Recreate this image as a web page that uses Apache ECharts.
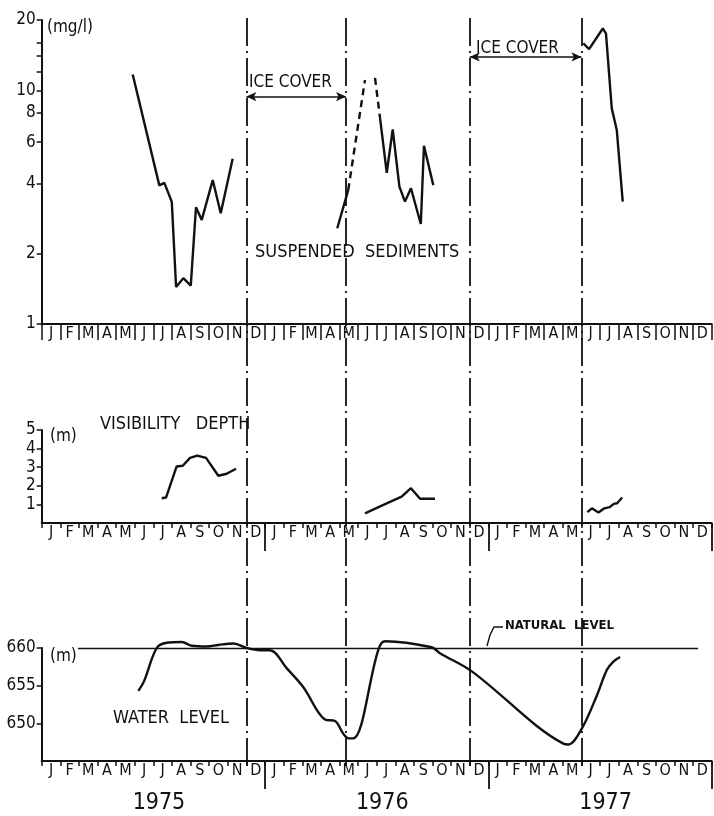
<!DOCTYPE html>
<html>
<head>
<meta charset="utf-8">
<script src="https://cdn.jsdelivr.net/npm/echarts@6/dist/echarts.min.js"></script>
<style>
html, body { margin: 0; padding: 0; background: #fff; }
#chart { width: 714px; height: 816px; }
</style>
</head>
<body>
<div id="chart"></div>
<script>
// x = month index, 0 = 1 Jan 1975, 36 = end of Dec 1977
const monthLetters = ['J', 'F', 'M', 'A', 'M', 'J', 'J', 'A', 'S', 'O', 'N', 'D'];
const years = ['1975', '1976', '1977'];
const yearCenters = [6.3, 18.3, 30.3];
const iceLines = [11, 16.35, 23, 29];
const iceCover = [[11, 16.35, 9.4], [23, 29, 13.9]]; // from, to, height (mg/l)

// suspended sediments (mg/l)
const sed1975 = [[4.89, 11.7], [6.32, 3.92], [6.59, 4.02], [6.99, 3.33], [7.22, 1.44], [7.61, 1.57],
  [8.01, 1.46], [8.29, 3.16], [8.60, 2.79], [9.19, 4.13], [9.62, 2.98], [10.26, 5.1]];
const sed1976a = [[15.88, 2.57], [16.47, 3.74]];
const sed1976up = [[16.47, 3.74], [17.37, 11.07]];
const sed1976down = [[17.91, 11.3], [18.18, 7.6]];
const sed1976b = [[18.18, 7.6], [18.54, 4.44], [18.86, 6.81], [19.22, 3.87], [19.52, 3.34], [19.84, 3.81],
  [20.37, 2.68], [20.54, 5.79], [21.04, 3.93]];
const sed1977 = [[29.10, 15.9], [29.41, 15.0], [30.15, 18.4], [30.32, 17.5], [30.63, 8.37], [30.90, 6.76], [31.22, 3.34]];
const sedTicks = [1, 2, 4, 6, 8, 10, 12, 14, 16, 20];
const sedLabels = [1, 2, 4, 6, 8, 10, 20];

// visibility depth (m)
const vis1975 = [[6.45, 1.33], [6.68, 1.37], [7.25, 3.04], [7.58, 3.08], [7.97, 3.5], [8.36, 3.62],
  [8.83, 3.5], [9.49, 2.54], [9.94, 2.65], [10.44, 2.92]];
const vis1976 = [[17.37, 0.52], [18.36, 0.97], [19.34, 1.42], [19.84, 1.87], [20.33, 1.30], [21.13, 1.30]];
const vis1977 = [[29.32, 0.58], [29.56, 0.79], [29.92, 0.56], [30.23, 0.79], [30.52, 0.85], [30.74, 1.03],
  [30.92, 1.06], [31.19, 1.37]];
const visLabels = [1, 2, 3, 4, 5];

// water level (m)
const waterLevel = [[5.19, 654.3], [5.50, 655.6], [6.18, 660.0], [6.72, 660.7], [7.52, 660.8], [8.06, 660.3],
  [8.87, 660.2], [9.49, 660.4], [10.30, 660.6], [11.02, 660.0], [11.73, 659.7], [12.27, 659.7],
  [13.17, 657.3], [14.06, 654.8], [15.22, 650.5], [15.76, 650.3], [16.21, 648.6], [16.48, 648.0],
  [16.74, 648.0], [18.09, 659.8], [18.45, 660.9], [20.96, 660.1], [21.40, 659.3], [23.11, 656.9],
  [28.03, 647.3], [28.30, 647.2], [29.02, 649.3], [29.83, 653.7], [30.37, 657.1], [30.72, 658.2], [31.08, 658.8]];
const waterLabels = [650, 655, 660];
const naturalLevel = [[1.95, 660], [35.27, 660]];

const FONT = "'DejaVu Sans Condensed', 'Liberation Sans Narrow', 'Liberation Sans', sans-serif";
const INK = '#111';

const monthBounds = Array.from({ length: 37 }, (_, i) => i);
const monthMids = Array.from({ length: 36 }, (_, i) => i + 0.5);
const lg = v => Math.log10(v);
const logPts = pts => pts.map(p => [p[0], lg(p[1])]);

function monthAxis(grid, tickLen) {
  return {
    type: 'value', gridIndex: grid, position: 'bottom', min: 0, max: 36,
    axisLine: { show: true, lineStyle: { color: INK, width: 2 } },
    axisTick: { show: true, customValues: monthBounds, length: tickLen, lineStyle: { color: INK, width: 1.5 } },
    axisLabel: {
      customValues: monthMids, formatter: v => monthLetters[Math.floor(v) % 12],
      margin: 2, color: INK, fontSize: 16, fontFamily: FONT
    },
    splitLine: { show: false }
  };
}
function longTickAxis(grid, showYears) {
  return {
    type: 'value', gridIndex: grid, position: 'bottom', min: 0, max: 36,
    axisLine: { show: false },
    axisTick: { show: true, customValues: [12, 24, 36], length: 28, lineStyle: { color: INK, width: 1.8 } },
    axisLabel: showYears ? {
      customValues: yearCenters, formatter: v => years[yearCenters.indexOf(v)],
      margin: 31, color: INK, fontSize: 23, fontFamily: FONT
    } : { show: false },
    splitLine: { show: false }
  };
}
function line(data, x, y, dashed, smooth) {
  return {
    type: 'line', xAxisIndex: x, yAxisIndex: y, data: data, symbol: 'none', smooth: smooth || false,
    clip: false, lineStyle: { color: INK, width: 2.4, type: dashed ? [7, 5] : 'solid' }, silent: true
  };
}

const chart = echarts.init(document.getElementById('chart'), null, { renderer: 'canvas' });

const option = {
  backgroundColor: '#fff',
  animation: false,
  grid: [
    { left: 41.7, right: 2.3, top: 20, bottom: 492 },
    { left: 41.7, right: 2.3, top: 430, bottom: 293 },
    { left: 41.7, right: 2.3, top: 648, bottom: 55 },
    { left: 41.7, right: 2.3, top: 18, bottom: 50 }
  ],
  xAxis: [
    monthAxis(0, 16),
    monthAxis(1, 5),
    longTickAxis(1, false),
    monthAxis(2, 5),
    longTickAxis(2, true),
    { type: 'value', gridIndex: 3, min: 0, max: 36, show: false }
  ],
  yAxis: [
    {
      type: 'value', gridIndex: 0, min: 0, max: lg(20),
      axisLine: { show: true, lineStyle: { color: INK, width: 2 } },
      axisTick: { show: true, customValues: sedTicks.map(lg), length: 5, lineStyle: { color: INK, width: 1.5 } },
      axisLabel: { customValues: sedLabels.map(lg), formatter: v => Math.round(Math.pow(10, v)), margin: 6,
        color: INK, fontSize: 17, fontFamily: FONT },
      splitLine: { show: false }
    },
    {
      type: 'value', gridIndex: 1, min: 0, max: 5,
      axisLine: { show: true, lineStyle: { color: INK, width: 2 } },
      axisTick: { show: true, customValues: visLabels, length: 5, lineStyle: { color: INK, width: 1.5 } },
      axisLabel: { customValues: visLabels, margin: 6, color: INK, fontSize: 17, fontFamily: FONT },
      splitLine: { show: false }
    },
    {
      type: 'value', gridIndex: 2, min: 645, max: 660,
      axisLine: { show: true, lineStyle: { color: INK, width: 2 } },
      axisTick: { show: true, customValues: waterLabels, length: 5, lineStyle: { color: INK, width: 1.5 } },
      axisLabel: { customValues: waterLabels, margin: 6, color: INK, fontSize: 17, fontFamily: FONT },
      splitLine: { show: false }
    },
    { type: 'value', gridIndex: 3, min: 0, max: 1, show: false }
  ],
  series: [
    line(logPts(sed1975), 0, 0),
    line(logPts(sed1976a), 0, 0),
    line(logPts(sed1976up), 0, 0, true),
    line(logPts(sed1976down), 0, 0, true),
    line(logPts(sed1976b), 0, 0),
    Object.assign(line(logPts(sed1977), 0, 0), {
      markLine: {
        silent: true, symbol: ['arrow', 'arrow'], symbolSize: [7, 10],
        label: { show: false },
        lineStyle: { color: INK, width: 1.6, type: 'solid' },
        data: iceCover.map(c => [{ coord: [c[0], lg(c[2])] }, { coord: [c[1], lg(c[2])] }])
      }
    }),
    line(vis1975, 1, 1),
    line(vis1976, 1, 1),
    line(vis1977, 1, 1),
    Object.assign(line(waterLevel, 3, 2, false, 0.35), {
      markLine: {
        silent: true, symbol: 'none', label: { show: false },
        lineStyle: { color: INK, width: 1.3, type: 'solid' },
        data: [[{ coord: naturalLevel[0] }, { coord: naturalLevel[1] }]]
      }
    }),
    {
      type: 'line', xAxisIndex: 5, yAxisIndex: 3, data: [], silent: true,
      markLine: {
        silent: true, symbol: 'none', label: { show: false },
        lineStyle: { color: INK, width: 1.8, type: [28, 5, 2, 5] },
        data: iceLines.map(v => ({ xAxis: v }))
      }
    }
  ],
  graphic: [
    { type: 'text', left: 47, top: 19, style: { text: '(mg/l)', fontSize: 17, fontFamily: FONT, fill: INK } },
    { type: 'text', left: 249, top: 74, style: { text: 'ICE COVER', fontSize: 17, fontFamily: FONT, fill: INK } },
    { type: 'text', left: 476, top: 40, style: { text: 'ICE COVER', fontSize: 17, fontFamily: FONT, fill: INK } },
    { type: 'text', left: 255, top: 243, style: { text: 'SUSPENDED  SEDIMENTS', fontSize: 18, fontFamily: FONT, fill: INK } },
    { type: 'text', left: 100, top: 415, style: { text: 'VISIBILITY   DEPTH', fontSize: 18, fontFamily: FONT, fill: INK } },
    { type: 'text', left: 50, top: 428, style: { text: '(m)', fontSize: 17, fontFamily: FONT, fill: INK } },
    { type: 'text', left: 50, top: 648, style: { text: '(m)', fontSize: 17, fontFamily: FONT, fill: INK } },
    { type: 'text', left: 113, top: 709, style: { text: 'WATER  LEVEL', fontSize: 18, fontFamily: FONT, fill: INK } },
    { type: 'text', left: 505, top: 619, style: { text: 'NATURAL  LEVEL', fontSize: 13, fontWeight: 'bold', fontFamily: FONT, fill: INK } },
    { type: 'polyline', shape: { points: [[503, 627], [494, 627], [490, 635], [487, 646]] },
      style: { stroke: INK, lineWidth: 1.4, fill: null } }
  ]
};

chart.setOption(option);
</script>
</body>
</html>
